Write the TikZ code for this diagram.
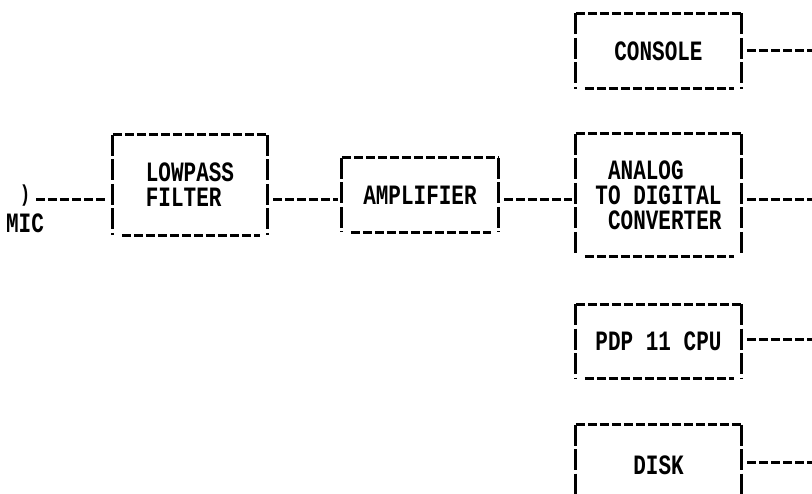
\documentclass[tikz,border=0pt]{standalone}
\usepackage{fontspec}
\newfontfamily\printfont[FakeStretch=0.75]{Liberation Mono}
\usetikzlibrary{positioning}
\tikzset{
    %Define style for printed text
    lbl/.style={
           font=\printfont\bfseries\fontsize{28}{25}\selectfont,
           inner sep=0pt},
    %Define style for boxes
    box/.style={
           lbl,
           rectangle,
           align=left,
           minimum width=165pt},
    % Define rule styles
    hrule/.style={
           line width=3pt,
           dash pattern=on 9.5pt off 2.5pt},
    vrule/.style={
           line width=3pt,
           dash pattern=on 21pt off 3.5pt},
    % Define connector style
    conn/.style={
           line width=3pt,
           dash pattern=on 8.5pt off 3.5pt,
           shorten <=6pt}
}
% box outline made of dashes and bars
\newcommand{\ttybox}[1]{%
  \draw[hrule] (#1.north west) -- (#1.north east);
  \draw[hrule] ([xshift=9pt]#1.south west) -- ([xshift=-7pt]#1.south east);
  \draw[vrule] (#1.north west) -- (#1.south west);
  \draw[vrule] (#1.north east) -- (#1.south east);}
\begin{document}
\begin{tikzpicture}[x=1pt,y=-1pt]
  \useasboundingbox (0,0) rectangle (812,494);
  \fill[white] (0,0) rectangle (812,494);
  \clip (0,0) rectangle (812,494);

  \node[box, minimum width=154pt, minimum height=100pt] (filter) at (190,185) {LOWPASS\\FILTER};
  \node[box, minimum width=156pt, minimum height=74pt] (amp) at (420,195) {AMPLIFIER};
  \node[box, minimum height=122pt] (adc) at (658.5,195) {\phantom{T}ANALOG\\TO DIGITAL\\\phantom{T}CONVERTER};
  \node[box, minimum height=75pt, above=45pt of adc] (console) {CONSOLE};
  \node[box, minimum height=74pt, below=48pt of adc] (pdp) {PDP 11 CPU};
  \node[box, minimum height=80pt, below=46pt of pdp] (disk) {DISK};

  \foreach \b in {filter,amp,adc,console,pdp,disk} {\ttybox{\b}}

  \node[lbl, font=\printfont\bfseries\fontsize{23}{23}\selectfont] (mic) at (25,196) {)};
  \node[lbl] (mic-name) at (25,223) {MIC};

  \coordinate (row) at (0,200);
  \draw[conn, shorten >=8pt] (mic.east |- row) -- (filter.west |- row);
  \draw[conn, shorten >=4pt] (filter.east |- row) -- (amp.west |- row);
  \draw[conn, shorten >=4pt] (amp.east |- row) -- (adc.west |- row);

  \foreach \b/\y in {console/51, adc/200, pdp/340, disk/463} {
    \coordinate (\b-out) at (812,\y);
    \draw[conn] (\b.east |- \b-out) -- (\b-out);
  }
\end{tikzpicture}
\end{document}
